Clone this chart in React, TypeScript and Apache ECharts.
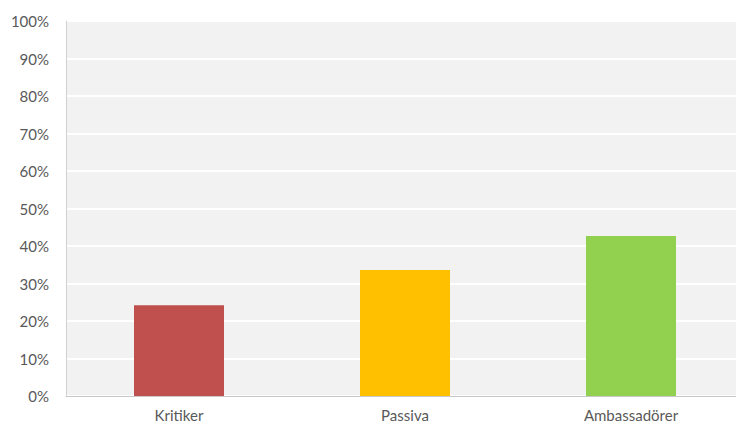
import React, { useEffect, useRef } from "react";
import * as echarts from "echarts";

const categories = ["Kritiker", "Passiva", "Ambassadörer"];
const values = [24.2, 33.6, 42.7];
const barColors = ["#c0504d", "#ffc000", "#92d050"];
const yTicks = { min: 0, max: 100, interval: 10 };

export default function App() {
  const ref = useRef<HTMLDivElement>(null);
  useEffect(() => {
    if (!ref.current) return;
    const chart = echarts.init(ref.current, undefined, { renderer: "svg" });
    chart.setOption({
      animation: false,
      backgroundColor: "#ffffff",
      grid: {
        left: 66,
        top: 21,
        bottom: 31,
        right: 0,
        show: true,
        backgroundColor: "#f2f2f2",
        borderWidth: 0,
      },
      xAxis: {
        type: "category",
        data: categories,
        axisLine: { show: true, lineStyle: { color: "#c8c8c8", width: 1 } },
        axisTick: { show: false },
        axisLabel: {
          color: "#595959",
          fontFamily: "Lato",
          fontSize: 15,
          margin: 11,
        },
        splitLine: { show: false },
      },
      yAxis: {
        type: "value",
        min: yTicks.min,
        max: yTicks.max,
        interval: yTicks.interval,
        axisLine: { show: true, lineStyle: { color: "#d0d0d0", width: 1 } },
        axisTick: { show: false },
        axisLabel: {
          color: "#595959",
          fontFamily: "Lato",
          fontSize: 15,
          margin: 17,
          formatter: (v: number) => `${v}%`,
        },
        splitLine: { show: true, lineStyle: { color: "#ffffff", width: 2 } },
      },
      series: [
        {
          type: "bar",
          barWidth: 90,
          data: values.map((v, i) => ({ value: v, itemStyle: { color: barColors[i] } })),
        },
      ],
    });
    return () => chart.dispose();
  }, []);
  return (
    <div
      style={{
        position: "absolute",
        left: 0,
        top: 0,
        width: 736,
        height: 427,
        overflow: "hidden",
      }}
    >
      <div ref={ref} style={{ width: 744, height: 427 }} />
    </div>
  );
}
